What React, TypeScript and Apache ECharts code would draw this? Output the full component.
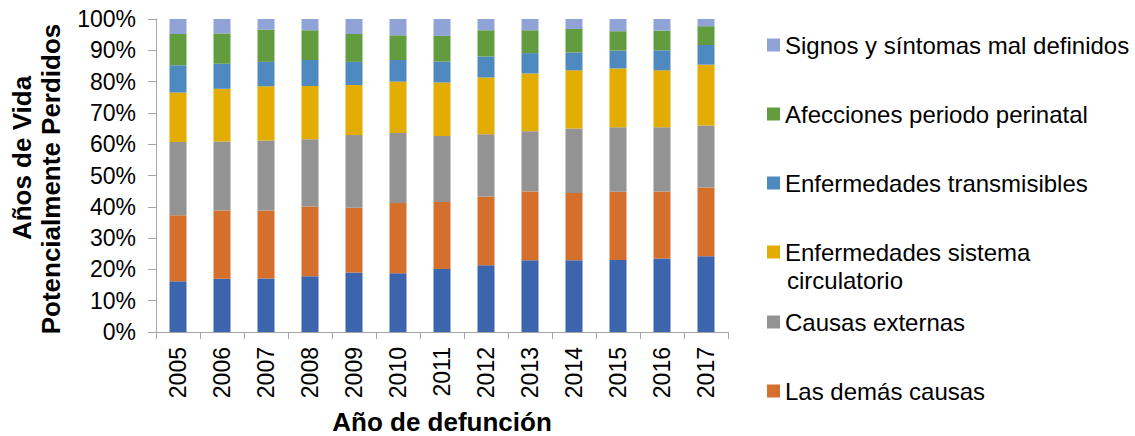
import React, { useEffect, useRef } from "react";
import * as echarts from "echarts";

const years = ["2005","2006","2007","2008","2009","2010","2011","2012","2013","2014","2015","2016","2017"];
const yTicks = [0, 10, 20, 30, 40, 50, 60, 70, 80, 90, 100];

const neoplasias = [16.2, 17.0, 17.1, 17.8, 19.0, 18.8, 20.1, 21.3, 22.9, 22.9, 23.0, 23.5, 24.2];
const demasCausas = [21.1, 21.8, 21.7, 22.3, 20.7, 22.4, 21.4, 22.0, 22.0, 21.5, 21.8, 21.4, 22.0];
const causasExternas = [23.4, 22.1, 22.4, 21.5, 23.2, 22.4, 21.1, 19.9, 19.2, 20.6, 20.6, 20.5, 19.8];
const circulatorio = [15.8, 16.8, 17.3, 17.0, 16.0, 16.4, 17.1, 18.1, 18.5, 18.6, 18.8, 18.2, 19.4];
const transmisibles = [8.7, 8.0, 7.8, 8.3, 7.4, 6.9, 6.7, 6.7, 6.5, 5.7, 5.7, 6.4, 6.3];
const perinatal = [10.0, 9.7, 10.3, 9.5, 8.9, 7.9, 8.2, 8.4, 7.3, 7.5, 6.2, 6.3, 6.0];
const signos = [4.8, 4.6, 3.4, 3.6, 4.8, 5.2, 5.4, 3.6, 3.6, 3.2, 3.9, 3.7, 2.3];

const seriesNames = [
  "Neoplasias",
  "Las demás causas",
  "Causas externas",
  "Enfermedades sistema circulatorio",
  "Enfermedades transmisibles",
  "Afecciones periodo perinatal",
  "Signos y síntomas mal definidos",
];
const seriesData = [neoplasias, demasCausas, causasExternas, circulatorio, transmisibles, perinatal, signos];
const colors = ["#3D65AE", "#D56F2C", "#939393", "#E3AC00", "#4E8ABF", "#639C3E", "#8FA3D6"];

// legend entries shown (top to bottom), as in the reference
const legendEntries = [
  "Signos y síntomas mal definidos",
  "Afecciones periodo perinatal",
  "Enfermedades transmisibles",
  "Enfermedades sistema circulatorio",
  "Causas externas",
  "Las demás causas",
];
const legendCenters = [45, 114, 183, 252, 322, 391];

const FONT = "Liberation Sans, Arial, sans-serif";

export default function App() {
  const ref = useRef<HTMLDivElement>(null);
  useEffect(() => {
    if (!ref.current) return;
    const chart = echarts.init(ref.current, null, { renderer: "svg" });
    const legends = legendEntries.map((name, i) => ({
      data: [name],
      orient: "vertical",
      left: 767,
      top: legendCenters[i] - 14,
      padding: 0,
      itemWidth: 13,
      itemHeight: 13,
      itemGap: 0,
      icon: "rect",
      selectedMode: false,
      formatter: (n: string) => (n === "Enfermedades sistema circulatorio" ? "Enfermedades sistema" : n),
      textStyle: { fontFamily: FONT, fontSize: 24, color: "#000", lineHeight: 28 },
    }));
    chart.setOption({
      animation: false,
      textStyle: { fontFamily: FONT },
      grid: { left: 156, right: 407, top: 19, bottom: 104, containLabel: false, outerBoundsMode: "none" },
      legend: legends,
      xAxis: {
        type: "category",
        data: years,
        axisLine: { lineStyle: { color: "#A6A6A6", width: 1 } },
        axisTick: { show: true, length: 7, lineStyle: { color: "#A6A6A6" } },
        axisLabel: { rotate: 90, margin: 15, fontSize: 23, color: "#000", fontFamily: FONT },
        name: "Año de defunción",
        nameLocation: "middle",
        nameGap: 77,
        nameTextStyle: { fontSize: 26, lineHeight: 26, fontWeight: "bold", color: "#000", fontFamily: FONT },
      },
      yAxis: {
        type: "value",
        min: yTicks[0],
        max: yTicks[yTicks.length - 1],
        interval: 10,
        axisLine: { show: true, lineStyle: { color: "#A6A6A6", width: 1 } },
        axisTick: { show: true, length: 8, lineStyle: { color: "#A6A6A6" } },
        splitLine: { show: false },
        axisLabel: { formatter: "{value}%", fontSize: 23, color: "#000", margin: 20, fontFamily: FONT },
      },
      graphic: [
        {
          type: "text",
          x: 22,
          y: 158,
          rotation: Math.PI / 2,
          style: {
            text: "Años de Vida",
            font: `bold 26px ${FONT}`,
            fill: "#000",
            textAlign: "center",
            textVerticalAlign: "middle",
          },
        },
        {
          type: "text",
          x: 51,
          y: 179,
          rotation: Math.PI / 2,
          style: {
            text: "Potencialmente Perdidos",
            font: `bold 26px ${FONT}`,
            fill: "#000",
            textAlign: "center",
            textVerticalAlign: "middle",
          },
        },
        {
          type: "text",
          x: 787,
          y: 280,
          style: {
            text: "circulatorio",
            font: `24px ${FONT}`,
            fill: "#000",
            textAlign: "left",
            textVerticalAlign: "middle",
          },
        },
      ],
      series: seriesNames.map((name, i) => ({
        name,
        type: "bar",
        stack: "total",
        barWidth: 17,
        data: seriesData[i],
        itemStyle: { color: colors[i] },
      })),
    });
    return () => chart.dispose();
  }, []);
  return (
    <div
      ref={ref}
      style={{ position: "absolute", left: 0, top: 0, width: 1135, height: 436, background: "#fff" }}
    />
  );
}
